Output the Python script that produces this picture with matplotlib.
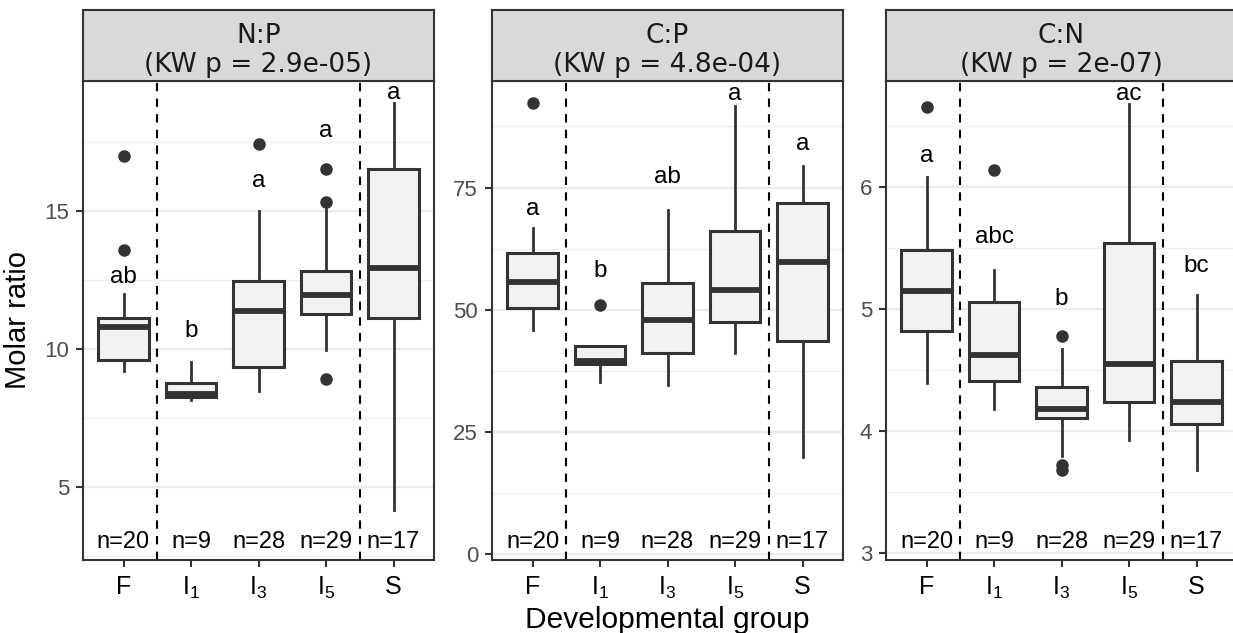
import matplotlib
matplotlib.use('Agg')
import matplotlib.pyplot as plt
import matplotlib.transforms as mtransforms

plt.rcParams['font.family'] = ['Liberation Sans', 'DejaVu Sans']
plt.rcParams['mathtext.fontset'] = 'custom'
plt.rcParams['mathtext.rm'] = 'Liberation Sans'

# ---- data ----
groups = ['F', r'$\mathregular{I_1}$', r'$\mathregular{I_3}$', r'$\mathregular{I_5}$', 'S']
n_counts = [20, 9, 28, 29, 17]

# N:P
np_whislo = [9.22, 8.16, 8.49, 9.97, 4.15]
np_q1 = [9.61, 8.28, 9.36, 11.28, 11.13]
np_med = [10.79, 8.38, 11.40, 11.95, 12.94]
np_q3 = [11.13, 8.79, 12.49, 12.85, 16.55]
np_whishi = [12.00, 9.52, 15.00, 15.10, 18.92]
np_fliers = [[13.58, 17.01], [], [17.46], [8.92, 15.34, 16.55], []]
np_letters = ['ab', 'b', 'a', 'a', 'a']
np_letter_y = [12.39, 10.43, 15.88, 17.70, 19.06]

# C:P
cp_whislo = [45.8, 35.3, 34.6, 41.1, 19.8]
cp_q1 = [50.3, 39.0, 41.2, 47.5, 43.7]
cp_med = [55.6, 39.5, 47.9, 54.1, 59.7]
cp_q3 = [61.6, 42.5, 55.4, 66.2, 71.9]
cp_whishi = [66.8, 42.5, 70.4, 91.6, 79.5]
cp_fliers = [[92.4], [51.0], [], [], []]
cp_letters = ['a', 'b', 'ab', 'a', 'a']
cp_letter_y = [69.4, 56.8, 75.9, 92.9, 82.7]

# C:N
cn_whislo = [4.39, 4.18, 3.80, 3.93, 3.68]
cn_q1 = [4.82, 4.41, 4.11, 4.24, 4.06]
cn_med = [5.15, 4.62, 4.18, 4.55, 4.24]
cn_q3 = [5.48, 5.06, 4.36, 5.54, 4.57]
cn_whishi = [6.08, 5.32, 4.67, 6.68, 5.11]
cn_fliers = [[6.65], [6.14], [3.68, 3.72, 4.78], [], []]
cn_letters = ['a', 'abc', 'b', 'ac', 'bc']
cn_letter_y = [6.20, 5.54, 5.03, 6.71, 5.30]

panels = [
    dict(title='N:P', kw='(KW p = 2.9e-05)',
         lo=np_whislo, q1=np_q1, med=np_med, q3=np_q3, hi=np_whishi, fl=np_fliers,
         let=np_letters, let_y=np_letter_y,
         ylim=(2.35, 19.73), major=[5, 10, 15], minor=[2.5, 7.5, 12.5, 17.5]),
    dict(title='C:P', kw='(KW p = 4.8e-04)',
         lo=cp_whislo, q1=cp_q1, med=cp_med, q3=cp_q3, hi=cp_whishi, fl=cp_fliers,
         let=cp_letters, let_y=cp_letter_y,
         ylim=(-1.2, 96.8), major=[0, 25, 50, 75], minor=[12.5, 37.5, 62.5, 87.5]),
    dict(title='C:N', kw='(KW p = 2e-07)',
         lo=cn_whislo, q1=cn_q1, med=cn_med, q3=cn_q3, hi=cn_whishi, fl=cn_fliers,
         let=cn_letters, let_y=cn_letter_y,
         ylim=(2.945, 6.865), major=[3, 4, 5, 6], minor=[3.5, 4.5, 5.5, 6.5]),
]

W, H = 1233, 633
fig = plt.figure(figsize=(W / 100, H / 100), dpi=100)

lefts_px = [83, 492, 886]
width_px = 351
ax_bot = 1 - 560 / H
ax_h = (560 - 81) / H
strip_h = (81 - 10) / H

DARK = '#333333'
positions = list(range(1, 6))

for p, lpx in zip(panels, lefts_px):
    ax = fig.add_axes([lpx / W, ax_bot, width_px / W, ax_h])
    stats = []
    for i in range(5):
        stats.append(dict(whislo=p['lo'][i], q1=p['q1'][i], med=p['med'][i],
                          q3=p['q3'][i], whishi=p['hi'][i], fliers=p['fl'][i]))
    ax.bxp(stats, positions=positions, widths=0.75, patch_artist=True,
           showcaps=False, zorder=3,
           boxprops=dict(facecolor='#F2F2F2', edgecolor=DARK, linewidth=2.2),
           medianprops=dict(color=DARK, linewidth=4.2, solid_capstyle='butt'),
           whiskerprops=dict(color=DARK, linewidth=2.0),
           flierprops=dict(marker='o', markerfacecolor=DARK, markeredgecolor=DARK,
                           markersize=8))

    for xv in (1.5, 4.5):
        ax.axvline(xv, color='black', lw=1.5, ls=(0, (4, 3.5)), zorder=2)

    ax.set_xlim(0.4, 5.6)
    ax.set_ylim(*p['ylim'])
    ax.set_yticks(p['major'])
    ax.set_yticks(p['minor'], minor=True)
    ax.set_xticks(positions)
    ax.set_xticklabels(groups)
    ax.grid(which='major', axis='y', color='#EBEBEB', lw=1.6, zorder=0)
    ax.grid(which='minor', axis='y', color='#EFEFEF', lw=0.9, zorder=0)
    ax.set_axisbelow(True)
    ax.tick_params(which='minor', length=0)
    ax.tick_params(axis='y', which='major', length=5, width=1.5, color=DARK,
                   labelcolor='#4D4D4D', labelsize=16, pad=5)
    ax.tick_params(axis='x', which='major', length=5, width=1.5, color=DARK,
                   labelcolor='black', labelsize=18, pad=6)
    for sp in ax.spines.values():
        sp.set_color(DARK)
        sp.set_linewidth(1.5)

    trans = mtransforms.blended_transform_factory(ax.transData, ax.transAxes)
    for x, n in zip(positions, n_counts):
        ax.text(x, 0.025, f'n={n}', transform=trans, ha='center', va='baseline',
                fontsize=17, color='black')
    for x, lab, y in zip(positions, p['let'], p['let_y']):
        ax.text(x, y, lab, ha='center', va='baseline', fontsize=17.5, color='black')

    # facet strip
    st = fig.add_axes([lpx / W, ax_bot + ax_h, width_px / W, strip_h])
    st.set_facecolor('#D9D9D9')
    st.set_xticks([])
    st.set_yticks([])
    for sp in st.spines.values():
        sp.set_color(DARK)
        sp.set_linewidth(1.5)
    st.text(0.5, 0.531, p['title'], transform=st.transAxes, ha='center',
            va='baseline', fontsize=19, family='DejaVu Sans', color='#1A1A1A')
    st.text(0.5, 0.131, p['kw'], transform=st.transAxes, ha='center',
            va='baseline', fontsize=19, family='DejaVu Sans', color='#1A1A1A')

fig.text(18 / W, 0.494, 'Molar ratio', rotation=90, ha='center', va='center',
         fontsize=21)
fig.text(667 / W, 0.0079, 'Developmental group', ha='center', va='baseline',
         fontsize=21.5)

fig.savefig('out.png', dpi=100)
